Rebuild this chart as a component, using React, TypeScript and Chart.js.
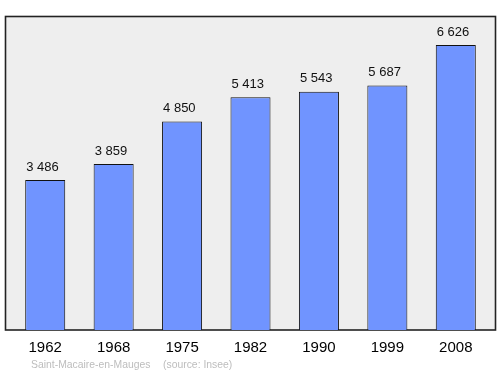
import React, { useEffect, useRef } from "react";
import { Chart, registerables } from "chart.js";

Chart.register(...registerables);

const years = ["1962", "1968", "1975", "1982", "1990", "1999", "2008"];
const population = [3486, 3859, 4850, 5413, 5543, 5687, 6626];
const valueLabels = ["3 486", "3 859", "4 850", "5 413", "5 543", "5 687", "6 626"];
const sourceName = "Saint-Macaire-en-Mauges";
const sourceNote = "(source: Insee)";

const FONT = "'Liberation Sans', Arial, Helvetica, sans-serif";

export default function App() {
  const ref = useRef<HTMLCanvasElement | null>(null);

  useEffect(() => {
    document.body.style.margin = "0";
    const canvas = ref.current;
    if (!canvas) return;

    const frame = {
      id: "frame",
      beforeDraw(chart: any) {
        const { ctx, chartArea } = chart;
        ctx.save();
        const l = chartArea.left - 5.5;
        const r = chartArea.right + 5.5;
        const t = chartArea.top - 0.5;
        const b = chartArea.bottom;
        ctx.fillStyle = "#eeeeee";
        ctx.fillRect(l, t, r - l, b - t);
        ctx.strokeStyle = "#222222";
        ctx.lineWidth = 1.6;
        ctx.strokeRect(l, t, r - l, b - t);
        ctx.restore();
      },
      afterDatasetsDraw(chart: any) {
        const { ctx } = chart;
        const meta = chart.getDatasetMeta(0);
        ctx.save();
        ctx.font = `13px ${FONT}`;
        ctx.fillStyle = "#111111";
        ctx.textAlign = "left";
        ctx.textBaseline = "alphabetic";
        meta.data.forEach((bar: any, i: number) => {
          ctx.fillText(valueLabels[i], bar.x - bar.width / 2 + 1, bar.y - 9.5);
        });
        // source line
        ctx.font = `10.4px ${FONT}`;
        ctx.fillStyle = "#bdbdbd";
        const x0 = chart.chartArea.left + 20;
        ctx.fillText(sourceName, x0, 367.7);
        ctx.fillText(sourceNote, x0 + 132, 367.7);
        ctx.restore();
      },
    };

    const chart = new Chart(canvas, {
      type: "bar",
      data: {
        labels: years,
        datasets: [
          {
            data: population,
            backgroundColor: "rgb(112,148,255)",
            borderColor: "#111111",
            borderWidth: 1,
            barPercentage: 0.585,
            categoryPercentage: 1,
          },
        ],
      },
      options: {
        responsive: false,
        animation: false,
        events: [],
        layout: { padding: { left: 11, right: 10, top: 17, bottom: 0 } },
        plugins: {
          legend: { display: false },
          tooltip: { enabled: false },
          title: { display: false },
        },
        scales: {
          x: {
            grid: { display: false, drawTicks: false },
            border: { display: false },
            ticks: {
              color: "#000000",
              font: { family: FONT, size: 15 },
              padding: 9,
              maxRotation: 0,
            },
            afterFit: (axis: any) => {
              axis.height = 44;
            },
          },
          y: {
            display: false,
            min: 0,
            max: 7280,
          },
        },
      },
      plugins: [frame],
    });

    return () => chart.destroy();
  }, []);

  return (
    <div style={{ width: 500, height: 374 }}>
      <canvas ref={ref} width={500} height={374} style={{ display: "block" }} />
    </div>
  );
}
